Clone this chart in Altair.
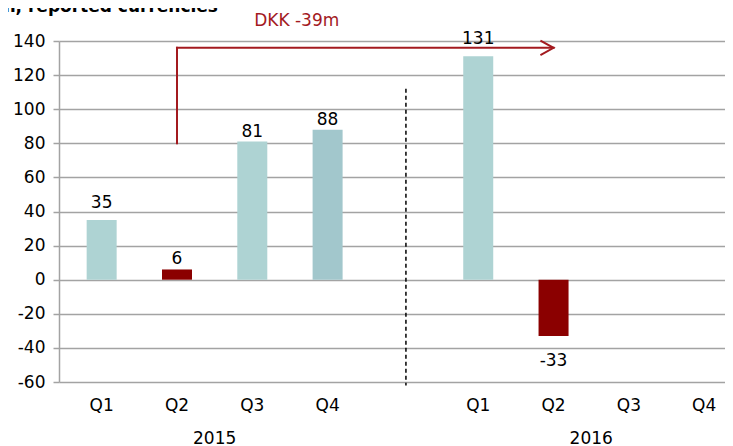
import altair as alt
import pandas as pd

# ---------------- data ----------------
quarters = ["Q1", "Q2", "Q3", "Q4", "Q1", "Q2", "Q3", "Q4"]
years = ["2015", "2015", "2015", "2015", "2016", "2016", "2016", "2016"]
values = [35, 6, 81, 88, 131, -33, None, None]
bar_groups = ["base", "q2", "base", "q4", "base", "q2", None, None]

y_ticks = [-60, -40, -20, 0, 20, 40, 60, 80, 100, 120, 140]

title_text = "DKKm, reported currencies"
note_text = "DKK -39m"

# annotation anchors (data units)
arrow_from_slot = 1      # Q2 2015
arrow_to_slot = 6        # Q2 2016
arrow_start_value = 80
arrow_level = 136
note_slot = 2.59
note_value = 152
divider_slot = 4.04
divider_top = 112
divider_bottom = -62

# ---------------- styles ----------------
FONT = "DejaVu Sans"
RED_LINE = "#A31A1F"
GRID = "#A3A3A3"
group_domain = ["base", "q2", "q4"]
group_colors = ["#AED3D3", "#8B0000", "#A2C7CC"]
near_label_dy = -5      # labels sitting close to the bar top
far_label_dy = -12      # labels lifted further (35, 131)
neg_label_dy = 30

W, H = 666, 341

# ---------------- frames ----------------
slots = [i + (1 if y == "2016" else 0) for i, y in enumerate(years)]
df = pd.DataFrame({"quarter": quarters, "year": years, "value": values,
                   "group": bar_groups, "slot": slots})

xscale = alt.Scale(domain=[-0.5, 8.21], nice=False, zero=False)
yscale = alt.Scale(domain=[-60, 140], nice=False, zero=False)

yaxis = alt.Axis(values=y_ticks, grid=True, gridColor=GRID, gridWidth=1.5,
                 domainColor=GRID, domainWidth=1.5, tickColor=GRID, tickWidth=1.5,
                 tickSize=6, labelFont=FONT, labelFontSize=17, labelColor="#000000",
                 labelPadding=8, labelOverlap=False, labelExpr="'' + datum.value",
                 title=None)

X = lambda f: alt.X(f, scale=xscale, axis=None)
Y = lambda f: alt.Y(f, scale=yscale, axis=yaxis)

base = alt.Chart(df).transform_calculate(label="'' + datum.value")

bars = base.transform_filter("isValid(datum.value)").mark_bar(size=30, orient="vertical").encode(
    x=X("slot:Q"),
    y=Y("value:Q"),
    y2=alt.datum(0),
    color=alt.Color("group:N", scale=alt.Scale(domain=group_domain, range=group_colors), legend=None),
)

def value_labels(expr, dy):
    return base.transform_filter(expr).mark_text(
        baseline="alphabetic", dy=dy, font=FONT, fontSize=17, color="#000000"
    ).encode(x=X("slot:Q"), y=Y("value:Q"), text="label:N")

near_labels = value_labels("isValid(datum.value) && datum.value > 0 && datum.value != 35 && datum.value != 131", near_label_dy)
far_labels = value_labels("datum.value == 35 || datum.value == 131", far_label_dy)
neg_labels = value_labels("isValid(datum.value) && datum.value < 0", neg_label_dy)

q_labels = base.mark_text(baseline="middle", font=FONT, fontSize=17, color="#000000").encode(
    x=X("slot:Q"), y=alt.value(H + 24), text="quarter:N")

year_labels = base.transform_aggregate(mid="mean(slot)", groupby=["year"]).mark_text(
    baseline="middle", font=FONT, fontSize=17, color="#000000").encode(
    x=X("mid:Q"), y=alt.value(H + 57), text="year:N")

div_df = pd.DataFrame({"x": [divider_slot], "y": [divider_top], "y2": [divider_bottom]})
divider = alt.Chart(div_df).mark_rule(color="#000000", strokeWidth=1.5, strokeDash=[4, 3]).encode(
    x=X("x:Q"), y=Y("y:Q"), y2="y2:Q")

seg_df = pd.DataFrame({
    "x": [arrow_from_slot, arrow_from_slot],
    "x2": [arrow_from_slot, arrow_to_slot],
    "y": [arrow_start_value, arrow_level],
    "y2": [arrow_level, arrow_level],
})
arrow_lines = alt.Chart(seg_df).mark_rule(color=RED_LINE, strokeWidth=2, strokeCap="square").encode(
    x=X("x:Q"), x2="x2:Q", y=Y("y:Q"), y2="y2:Q")

head_df = pd.DataFrame({"x": [arrow_to_slot], "y": [arrow_level]})
arrow_head = alt.Chart(head_df).mark_point(
    shape="M-1.8,-1L0,0L-1.8,1", filled=False, size=213, strokeWidth=2,
    color=RED_LINE, opacity=1).encode(x=X("x:Q"), y=Y("y:Q"))

note_df = pd.DataFrame({"x": [note_slot], "y": [note_value], "t": [note_text]})
note = alt.Chart(note_df).mark_text(font=FONT, fontSize=17, color=RED_LINE, baseline="middle").encode(
    x=X("x:Q"), y=Y("y:Q"), text="t:N")

title_df = pd.DataFrame({"t": [title_text]})
title = alt.Chart(title_df).mark_text(font=FONT, fontSize=17, fontWeight="bold", color="#000000",
                                      align="right", baseline="alphabetic").encode(
    x=alt.value(159), y=alt.value(-29), text="t:N")

chart = alt.layer(bars, divider, arrow_lines, arrow_head, near_labels, far_labels, neg_labels,
                  q_labels, year_labels, note, title).properties(
    width=W, height=H,
    padding={"left": 51, "top": 33, "right": 0, "bottom": 64},
    autosize=alt.AutoSizeParams(type="none"),
).configure(background="#FFFFFF").configure_view(stroke=None)

chart.save("out.html", embed_options={"renderer": "svg", "actions": False})
